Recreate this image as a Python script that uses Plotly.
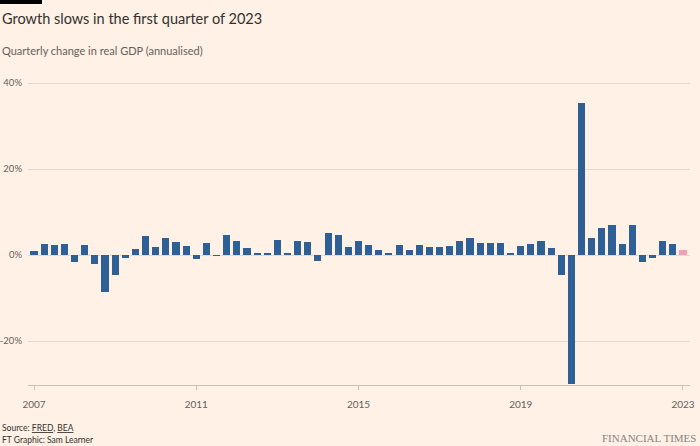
import plotly.graph_objects as go

years = [2007, 2008, 2009, 2010, 2011, 2012, 2013, 2014, 2015, 2016,
         2017, 2018, 2019, 2020, 2021, 2022, 2023]
# Quarterly change in real GDP, annualised (%), Q1..Q4 per year
gdp_change = {
    2007: [1.0, 2.5, 2.4, 2.5],
    2008: [-1.6, 2.3, -2.1, -8.5],
    2009: [-4.6, -0.7, 1.5, 4.5],
    2010: [2.0, 3.9, 3.0, 2.1],
    2011: [-1.0, 2.9, -0.1, 4.7],
    2012: [3.2, 1.7, 0.5, 0.5],
    2013: [3.6, 0.5, 3.2, 3.1],
    2014: [-1.4, 5.2, 4.8, 1.9],
    2015: [3.3, 2.3, 1.3, 0.6],
    2016: [2.4, 1.2, 2.4, 2.0],
    2017: [1.8, 2.1, 3.2, 4.1],
    2018: [2.8, 2.8, 2.8, 0.6],
    2019: [2.2, 2.7, 3.4, 1.7],
    2020: [-4.6, -29.9, 35.3, 3.9],
    2021: [6.3, 7.0, 2.7, 7.0],
    2022: [-1.6, -0.6, 3.2, 2.6],
    2023: [1.1],
}
x_ticks = [2007, 2011, 2015, 2019, 2023]
y_ticks = [-20, 0, 20, 40]
y_tick_labels = ["-20%", "0%", "20%", "40%"]

x_vals, y_vals = [], []
for yr in years:
    for qi, v in enumerate(gdp_change[yr]):
        x_vals.append(yr + qi / 4)
        y_vals.append(v)

BLUE = "#2e5f96"
PINK = "#f2a0b7"
colors = [BLUE] * (len(x_vals) - 1) + [PINK]

fig = go.Figure()
fig.add_trace(go.Bar(
    x=x_vals, y=y_vals, width=0.175,
    marker=dict(color=colors, line=dict(width=0)),
    hoverinfo="skip",
))

BG = "#fff1e5"
W, H = 700, 446
L, R, T, B = 28, 10, 75, 61
pw, ph = W - L - R, H - T - B

fig.update_layout(
    width=W, height=H,
    paper_bgcolor=BG, plot_bgcolor=BG,
    margin=dict(l=L, r=R, t=T, b=B, autoexpand=False),
    showlegend=False,
    bargap=0,
    font=dict(family="Lato, 'Noto Sans', sans-serif", color="#66605c", size=10),
    xaxis=dict(
        range=[2006.852, 2023.173], automargin=False,
        tickvals=x_ticks, ticktext=[str(t) for t in x_ticks],
        showgrid=False, zeroline=False,
        showline=True, linecolor="#ccc1b7", linewidth=1,
        ticks="outside", ticklen=4, tickcolor="#ccc1b7",
        tickfont=dict(size=10, color="#66605c"),
        ticklabelstandoff=6,
    ),
    yaxis=dict(
        range=[-30.2, 41.9], automargin=False,
        tickvals=y_ticks, ticktext=y_tick_labels,
        showgrid=True, gridcolor="#e6d9ce", gridwidth=1,
        zeroline=False, showline=False, ticks="",
        tickfont=dict(size=9.5, color="#66605c"),
        ticklabelstandoff=5,
    ),
    shapes=[dict(
        type="rect", xref="paper", yref="paper",
        x0=-L / pw, x1=(42 - L) / pw,
        y0=1 + (T - 4) / ph, y1=1 + T / ph,
        fillcolor="#000000", line=dict(width=0),
    )],
    annotations=[
        dict(text="Growth slows in the first quarter of 2023",
             xref="paper", yref="paper", x=-L / pw, y=1 + (T - 18) / ph,
             xanchor="left", yanchor="middle", showarrow=False,
             font=dict(size=14.5, color="#33302e")),
        dict(text="Quarterly change in real GDP (annualised)",
             xref="paper", yref="paper", x=-L / pw, y=1 + (T - 50) / ph,
             xanchor="left", yanchor="middle", showarrow=False,
             font=dict(size=11, color="#66605c")),
        dict(text="Source: <span style='text-decoration:underline'>FRED</span>, "
                  "<span style='text-decoration:underline'>BEA</span>",
             xref="paper", yref="paper", x=-L / pw, y=-(428 - T - ph) / ph,
             xanchor="left", yanchor="middle", showarrow=False,
             font=dict(size=8.5, color="#33302e")),
        dict(text="FT Graphic: Sam Learner",
             xref="paper", yref="paper", x=-L / pw, y=-(440 - T - ph) / ph,
             xanchor="left", yanchor="middle", showarrow=False,
             font=dict(size=8.5, color="#33302e")),
        dict(text="FINANCIAL TIMES",
             xref="paper", yref="paper", x=1 + (R - 2) / pw, y=-(438 - T - ph) / ph,
             xanchor="right", yanchor="middle", showarrow=False,
             font=dict(size=11, color="#8a8380",
                       family="'Liberation Serif', 'DejaVu Serif', serif")),
    ],
)

fig.write_html("out.html",
               config={"displayModeBar": False},
               post_script="document.body.style.margin='0';")
